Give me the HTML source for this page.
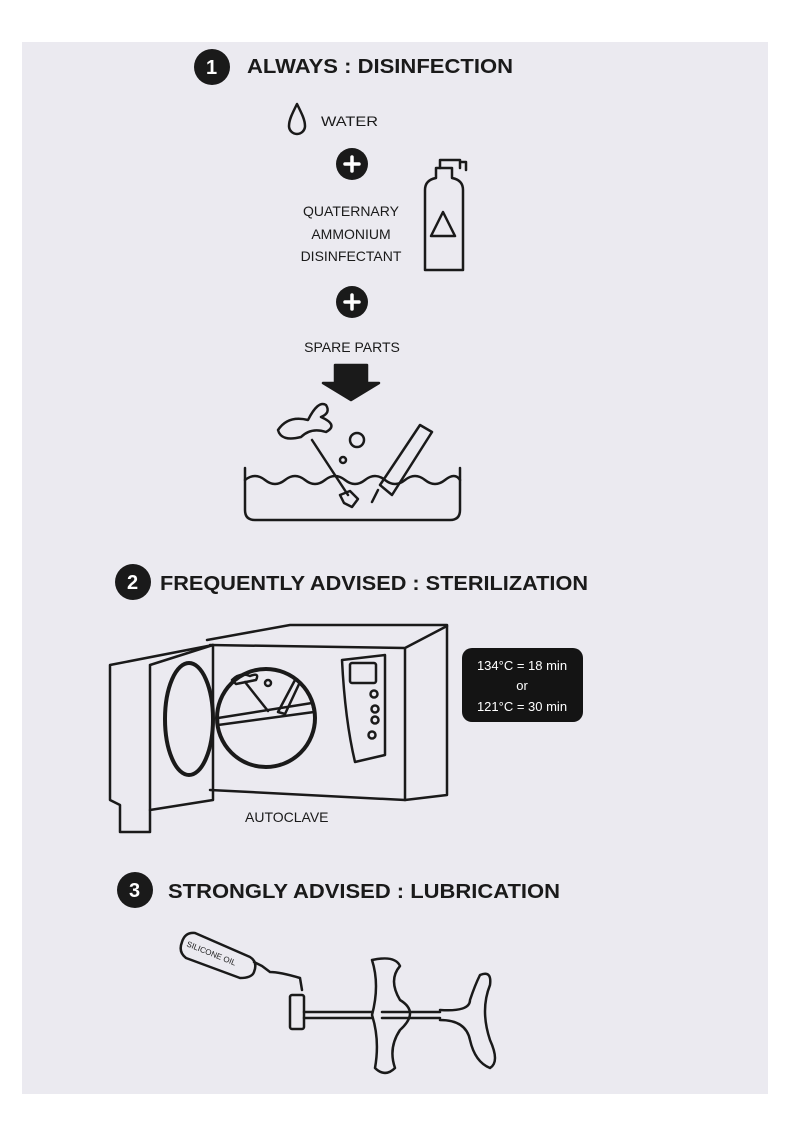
<!DOCTYPE html>
<html><head><meta charset="utf-8"><style>
html,body{margin:0;padding:0;background:#fff;}
svg{display:block}
text{font-family:"Liberation Sans",sans-serif;fill:#1a1a1a}
</style></head><body>
<svg width="790" height="1134" viewBox="0 0 790 1134" xmlns="http://www.w3.org/2000/svg">
<rect x="0" y="0" width="790" height="1134" fill="#fff"/>
<rect x="22" y="42" width="746" height="1052" fill="#ebeaf0"/>
<g stroke="#1a1a1a" fill="none" stroke-width="2.5" stroke-linejoin="round" stroke-linecap="round">
<circle cx="212" cy="67" r="18" fill="#1a1a1a" stroke="none"/>
<path d="M297 104 C292 114 289 120 289 126 A8 8 0 0 0 305 126 C305 120 302 114 297 104Z"/>
<circle cx="352" cy="164" r="16" fill="#1a1a1a" stroke="none"/>
<circle cx="352" cy="302" r="16" fill="#1a1a1a" stroke="none"/>
<path d="M345 164h14M352 157v14" stroke="#fff" stroke-width="3.5"/>
<path d="M345 302h14M352 295v14" stroke="#fff" stroke-width="3.5"/>
<path d="M425 190 Q425 180 436 178 L436 168 L452 168 L452 178 Q463 180 463 190 L463 270 L425 270 Z"/>
<path d="M440 168 V160 H460 V168 M460 162 H466 V170"/>
<path d="M431 236 L443 212 L455 236 Z"/>
<path d="M335 365 H367 V383 H379 L351 400 L323 383 H335 Z" fill="#1a1a1a"/>
<path d="M245 468 V510 Q245 520 255 520 H450 Q460 520 460 510 V468"/>
<path d="M245 480 q10 -8 20 0 t20 0 t20 0 t20 0 t20 0 t20 0 t20 0 t20 0 t20 0 t20 0 t15 0"/>
<path d="M278 430 q10 -15 30 -10 q10 -20 18 -15 q5 8 -5 12 q18 8 5 15 q-15 -5 -25 5 q-20 5 -23 -7z"/>
<path d="M312 440 L348 495"/>
<path d="M340 495 l10 -4 l8 8 l-6 8 l-8 -4z"/>
<circle cx="357" cy="440" r="7"/><circle cx="343" cy="460" r="3"/>
<path d="M380 485 L420 425 L432 432 L392 495 Z"/><path d="M378 490 l-6 12"/>
<circle cx="133" cy="582" r="18" fill="#1a1a1a" stroke="none"/>
<path d="M207 640 L290 625 H447 V795 L405 800 L210 790"/>
<path d="M210 645 L405 648 L447 626 M405 648 V800"/>
<path d="M110 665 L213 645 V800 L150 810 V832 L120 832 V805 L110 800 Z"/>
<path d="M150 665 L213 645 M150 665 V810"/>
<ellipse cx="189" cy="719" rx="24" ry="56" stroke-width="4"/>
<circle cx="266" cy="718" r="49" stroke-width="4"/>
<path d="M218 718 L312 703 L314 712 L218 725 Z"/>
<path d="M232 680 q8 -8 18 -4 q10 -4 6 4 q-10 2 -20 4z M245 682 L268 711"/>
<circle cx="268" cy="683" r="3"/>
<path d="M278 712 L295 680 L300 682 L285 714Z"/>
<path d="M342 660 L385 655 V755 L355 762 Q345 720 342 660Z"/>
<rect x="350" y="663" width="26" height="20" rx="2"/>
<circle cx="374" cy="694" r="3.5"/><circle cx="375" cy="709" r="3.5"/><circle cx="375" cy="720" r="3.5"/><circle cx="372" cy="735" r="3.5"/>
<rect x="462" y="648" width="121" height="74" rx="10" fill="#141414" stroke="none"/>
<circle cx="135" cy="890" r="18" fill="#1a1a1a" stroke="none"/>
<path d="M182 942 Q185 932 195 933 L250 957 Q258 962 254 972 Q252 978 240 978 L186 958 Q178 952 182 942Z"/>
<path d="M254 962 L262 966 L270 972 Q280 972 300 978 M300 978 L302 990"/>
<rect x="290" y="995" width="14" height="34" rx="2"/>
<path d="M304 1012 H372 M382 1012 H440 M304 1018 H372 M382 1018 H440"/>
<path d="M372 960 Q395 955 400 966 Q388 980 400 1000 Q420 1012 400 1030 Q388 1048 395 1068 Q385 1078 375 1068 Q380 1040 372 1015 Q380 985 372 960Z"/>
<path d="M440 1010 Q470 1012 470 1000 Q475 985 480 975 Q492 970 490 985 Q480 1010 490 1040 Q500 1062 490 1068 Q475 1062 470 1040 Q466 1020 440 1020"/>
</g>
<text x="206" y="74" font-size="20" font-weight="bold" style="fill:#fff">1</text>
<text x="247" y="73" font-size="20" font-weight="bold" textLength="266" lengthAdjust="spacingAndGlyphs">ALWAYS : DISINFECTION</text>
<text x="321" y="126" font-size="14" textLength="57" lengthAdjust="spacingAndGlyphs">WATER</text>
<text x="351" y="216" font-size="14" text-anchor="middle">QUATERNARY</text>
<text x="351" y="239" font-size="14" text-anchor="middle">AMMONIUM</text>
<text x="351" y="261" font-size="14" text-anchor="middle">DISINFECTANT</text>
<text x="352" y="352" font-size="14" text-anchor="middle">SPARE PARTS</text>
<text x="127" y="589" font-size="20" font-weight="bold" style="fill:#fff">2</text>
<text x="160" y="590" font-size="20" font-weight="bold" textLength="428" lengthAdjust="spacingAndGlyphs">FREQUENTLY ADVISED : STERILIZATION</text>
<text x="522" y="670" font-size="13" text-anchor="middle" style="fill:#fff">134°C = 18 min</text>
<text x="522" y="690" font-size="13" text-anchor="middle" style="fill:#fff">or</text>
<text x="522" y="711" font-size="13" text-anchor="middle" style="fill:#fff">121°C = 30 min</text>
<text x="245" y="822" font-size="14">AUTOCLAVE</text>
<text x="129" y="897" font-size="20" font-weight="bold" style="fill:#fff">3</text>
<text x="168" y="898" font-size="20" font-weight="bold" textLength="392" lengthAdjust="spacingAndGlyphs">STRONGLY ADVISED : LUBRICATION</text>
<text x="186" y="946" font-size="8" transform="rotate(22 186 946)">SILICONE OIL</text>
</svg>
</body></html>
